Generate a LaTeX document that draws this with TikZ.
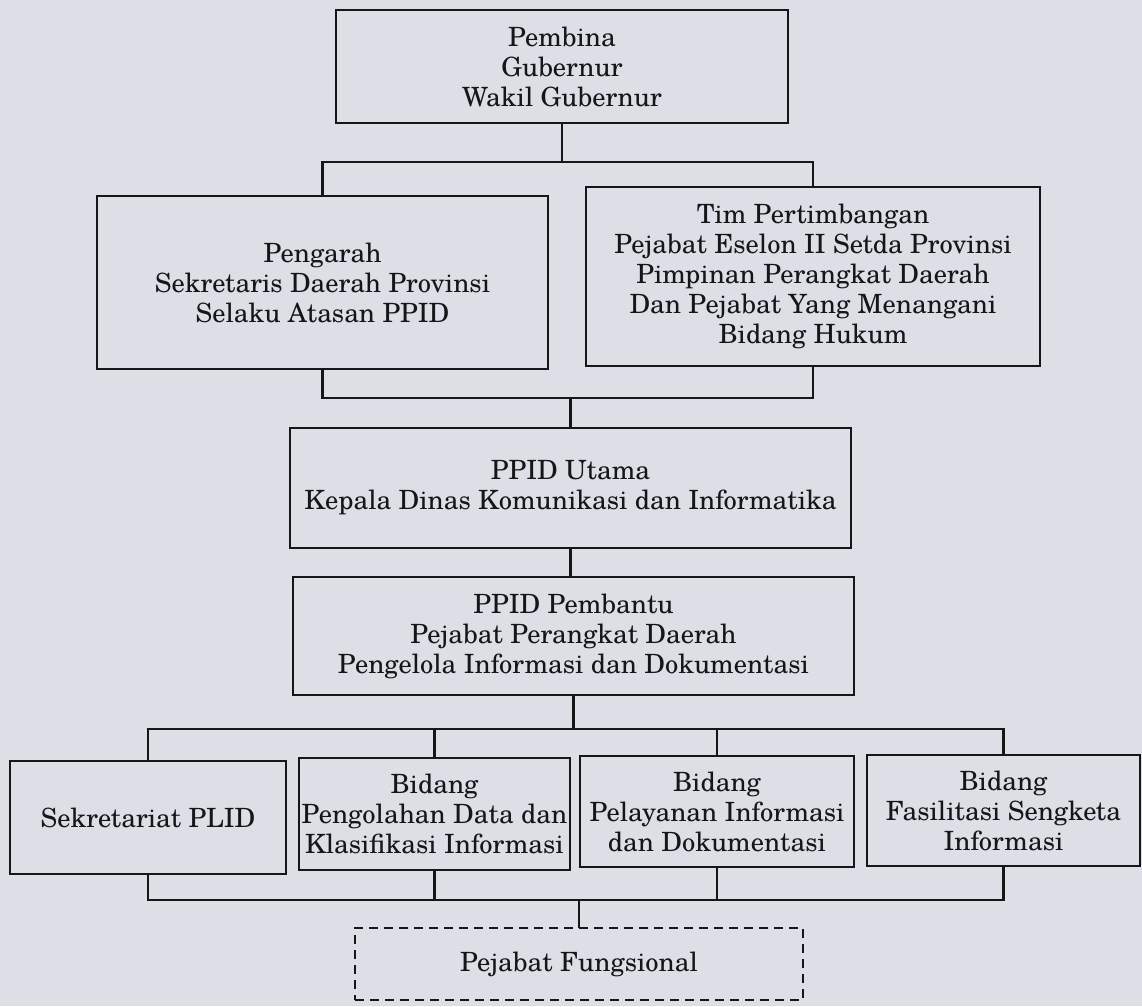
\documentclass[tikz,border=0pt]{standalone}
\usepackage{fontspec}
\setmainfont{TeX Gyre Schola}
\definecolor{paper}{RGB}{221,223,231}
\definecolor{ink}{RGB}{22,22,24}
\begin{document}
\begin{tikzpicture}[x=1pt,y=-1pt,
  box/.style={draw=ink, line width=2.6pt, align=center, inner sep=0pt, outer sep=0pt,
    font=\fontsize{26.5}{30}\selectfont, text=ink},
  dashbox/.style={box, dash pattern=on 9pt off 6pt},
  conn/.style={draw=ink, line width=2.2pt}]
\fill[paper] (0,0) rectangle (1142,1006);
\useasboundingbox (0,0) rectangle (1142,1006);

\node[box, minimum width=452pt, minimum height=113pt] (pembina) at (562,66.5) {Pembina\\Gubernur\\Wakil Gubernur};
\node[box, minimum width=451pt, minimum height=173pt] (pengarah) at (322.5,282.5) {Pengarah\\Sekretaris Daerah Provinsi\\Selaku Atasan PPID};
\node[box, minimum width=454pt, minimum height=179pt] (tim) at (813,276.5) {Tim Pertimbangan\\Pejabat Eselon II Setda Provinsi\\Pimpinan Perangkat Daerah\\Dan Pejabat Yang Menangani\\Bidang Hukum};
\node[box, minimum width=561pt, minimum height=120pt] (utama) at (570.5,488) {PPID Utama\\Kepala Dinas Komunikasi dan Informatika};
\node[box, minimum width=561pt, minimum height=118pt] (pembantu) at (573.5,636) {PPID Pembantu\\Pejabat Perangkat Daerah\\Pengelola Informasi dan Dokumentasi};
\node[box, minimum width=276pt, minimum height=113pt] (sek) at (148,817.5) {Sekretariat PLID};
\node[box, minimum width=271pt, minimum height=112pt] (olah) at (434.5,814) {Bidang\\Pengolahan Data dan\\Klasifikasi Informasi};
\node[box, minimum width=274pt, minimum height=111pt] (layan) at (717,811.5) {Bidang\\Pelayanan Informasi\\dan Dokumentasi};
\node[box, minimum width=273pt, minimum height=111pt] (fasil) at (1003.5,810.5) {Bidang\\Fasilitasi Sengketa\\Informasi};
\node[dashbox, minimum width=448pt, minimum height=72pt] (fungsi) at (579,964) {Pejabat Fungsional};

\coordinate (bus1) at (562,162);
\coordinate (bus2) at (570.5,398);
\coordinate (bus3) at (573.5,729);
\coordinate (bus4) at (579,900);

\draw[conn] (pembina.south) -- (bus1);
\draw[conn] (pengarah.north) |- (bus1) -| (tim.north);
\draw[conn] (pengarah.south) |- (bus2) -| (tim.south);
\draw[conn] (bus2) -- (utama.north);
\draw[conn] (utama.south) -- (utama.south |- pembantu.north);
\draw[conn] (pembantu.south) -- (bus3);
\draw[conn] (sek.north) |- (bus3) -| (fasil.north);
\draw[conn] (olah.north) -- (olah.north |- bus3);
\draw[conn] (layan.north) -- (layan.north |- bus3);
\draw[conn] (sek.south) |- (bus4) -| (fasil.south);
\draw[conn] (olah.south) -- (olah.south |- bus4);
\draw[conn] (layan.south) -- (layan.south |- bus4);
\draw[conn] (bus4) -- (fungsi.north);
\end{tikzpicture}
\end{document}
